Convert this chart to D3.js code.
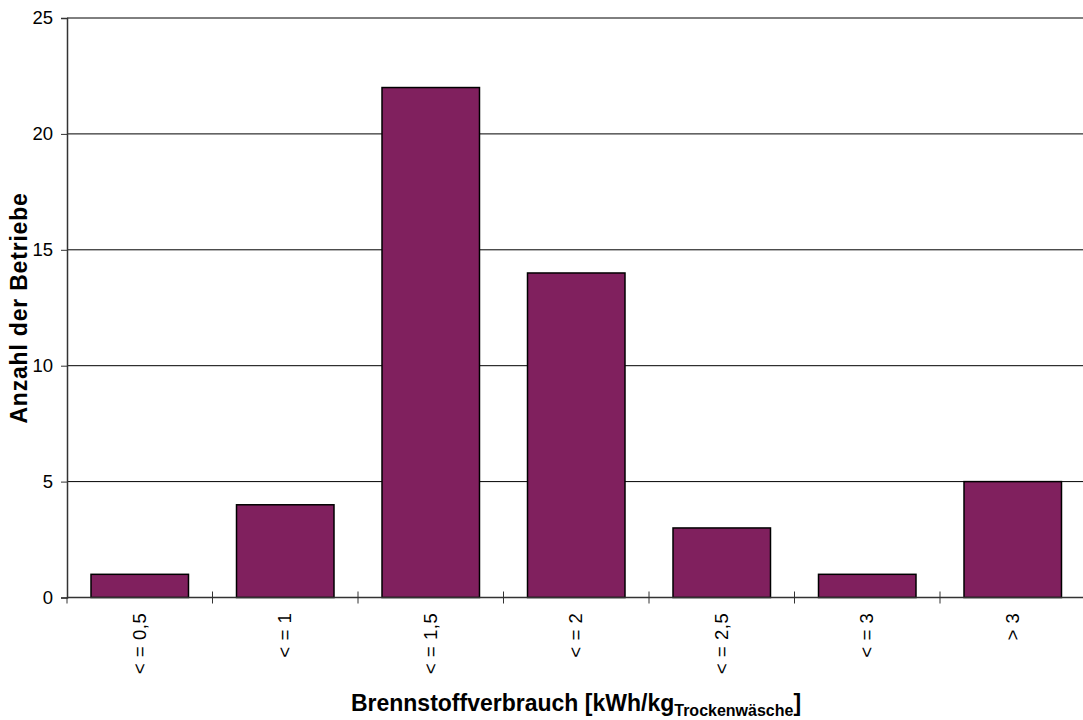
<!DOCTYPE html>
<html><head><meta charset="utf-8">
<script src="https://cdn.jsdelivr.net/npm/d3@7"></script>
<style>body{margin:0;background:#fff}svg{display:block;font-family:Arial,"Liberation Sans",sans-serif}</style>
</head><body>
<script>
const categories = ["< = 0,5","< = 1","< = 1,5","< = 2","< = 2,5","< = 3","> 3"];
const values = [1,4,22,14,3,1,5];
const yTicks = [0,5,10,15,20,25];

const W=1083,H=720;
const m={left:67,top:18,right:W-1085.5,bottom:H-597.5};
const svg=d3.select("body").append("svg").attr("width",W).attr("height",H);
const x=d3.scaleBand().domain(categories).range([m.left,W-m.right]).paddingInner(0.33).paddingOuter(0.165);
const y=d3.scaleLinear().domain([0,25]).range([H-m.bottom,m.top]);
const xEdges=d3.scaleLinear().domain([0,categories.length]).range([m.left,W-m.right]);

// grid
svg.append("g").selectAll("line").data(yTicks.filter(d=>d>0)).join("line")
  .attr("x1",m.left).attr("x2",W-m.right).attr("y1",d=>y(d)).attr("y2",d=>y(d))
  .attr("stroke","#000").attr("stroke-width",1);

// bars
svg.append("g").selectAll("rect").data(values).join("rect")
  .attr("x",(d,i)=>x(categories[i])).attr("width",x.bandwidth())
  .attr("y",d=>y(d)).attr("height",d=>y(0)-y(d))
  .attr("fill","#80205e").attr("stroke","#000").attr("stroke-width",1.5);

// y axis
const ya=svg.append("g").attr("transform",`translate(${m.left},0)`)
  .call(d3.axisLeft(y).tickValues(yTicks).tickSize(6).tickPadding(8));
ya.select(".domain").attr("stroke","#333").attr("stroke-width",1.5);
ya.selectAll(".tick line").attr("stroke","#333");
ya.selectAll("text").attr("font-size",18.5).attr("fill","#000").attr("font-family","Arial, Liberation Sans, sans-serif");

// x axis baseline and ticks
svg.append("line").attr("x1",m.left).attr("x2",W-m.right).attr("y1",y(0)).attr("y2",y(0)).attr("stroke","#333").attr("stroke-width",1.5);
svg.append("g").selectAll("line").data(d3.range(categories.length+1)).join("line")
  .attr("x1",d=>xEdges(d)).attr("x2",d=>xEdges(d)).attr("y1",d=>d===0?y(0):y(0)-6).attr("y2",y(0)+6)
  .attr("stroke","#333");

// x labels rotated
svg.append("g").selectAll("text").data(categories).join("text")
  .attr("transform",d=>`translate(${x(d)+x.bandwidth()/2+6},${y(0)+15}) rotate(-90)`)
  .attr("text-anchor","end").attr("font-size",18.5).attr("letter-spacing",0.6).text(d=>d);

// axis titles
svg.append("text").attr("transform",`translate(27,308) rotate(-90)`)
  .attr("text-anchor","middle").attr("font-weight","bold").attr("font-size",23).attr("letter-spacing",0.8).text("Anzahl der Betriebe");
const t=svg.append("text").attr("x",576).attr("y",711).attr("text-anchor","middle").attr("font-weight","bold").attr("font-size",23);
t.append("tspan").text("Brennstoffverbrauch [kWh/kg");
t.append("tspan").attr("font-size",16).attr("dy",5).text("Trockenwäsche");
t.append("tspan").attr("dy",-5).text("]");
</script>
</body></html>
